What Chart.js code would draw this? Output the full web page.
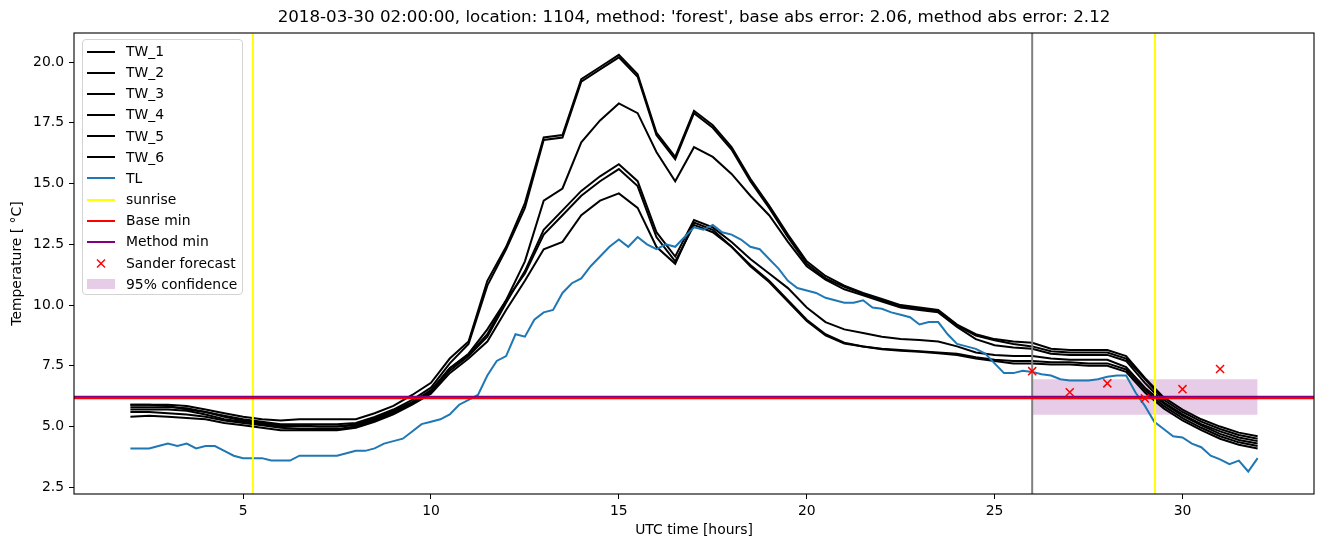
<!DOCTYPE html>
<html>
<head>
<meta charset="utf-8">
<script src="https://cdn.jsdelivr.net/npm/chart.js@4/dist/chart.umd.min.js"></script>
<style>
    body { margin: 0; background: #fff; }
    #wrap { position: relative; width: 1324px; height: 547px; }
    #legend {
        position: absolute; left: 82px; top: 39px; width: 159px; height: 254px;
        border: 1px solid #d3d3d3; border-radius: 4px; background: rgba(255,255,255,0.8);
        font: 13.9px "DejaVu Sans", sans-serif; color: #000;
    }
    .row { position: absolute; left: 0; width: 100%; height: 21px; }
    .row .handle { position: absolute; left: 4px; width: 28px; }
    .row .text { position: absolute; left: 43px; top: 0; line-height: 21px; white-space: nowrap; }
</style>
</head>
<body>
<div id="wrap">
    <canvas id="chart" width="1324" height="547"></canvas>
    <div id="legend"></div>
</div>
<script>
const TITLE = "2018-03-30 02:00:00, location: 1104, method: 'forest', base abs error: 2.06, method abs error: 2.12";

const X_MIN = 0.5, X_MAX = 33.5;
const Y_MIN = 2.224, Y_MAX = 21.2;
const X_TICKS = [5, 10, 15, 20, 25, 30];
const Y_TICKS = [2.5, 5.0, 7.5, 10.0, 12.5, 15.0, 17.5, 20.0];

// TW series sampled every half hour from 2 to 32 UTC
const TW_START = 2, TW_STEP = 0.5;
const TW_1 = [5.9,5.9,5.9,5.85,5.7,5.55,5.4,5.3,5.25,5.3,
    5.3,5.3,5.3,5.55,5.85,6.3,6.8,7.8,8.5,11.0,
    12.4,14.2,16.9,17.0,19.3,19.8,20.3,19.5,17.1,16.1,
    18.0,17.4,16.5,15.2,14.1,12.9,11.8,11.2,10.8,10.5,
    10.25,10.0,9.9,9.8,9.2,8.8,8.6,8.5,8.45,8.2,
    8.15,8.15,8.15,7.9,7.0,6.2,5.7,5.3,5.0,4.75,
    4.6];
const TW_2 = [5.8,5.8,5.8,5.75,5.6,5.45,5.3,5.2,5.1,5.1,
    5.1,5.1,5.15,5.4,5.7,6.1,6.6,7.6,8.4,10.8,
    12.3,14.0,16.8,16.9,19.2,19.7,20.2,19.4,17.0,16.0,
    17.9,17.3,16.4,15.1,14.0,12.8,11.7,11.1,10.75,10.45,
    10.2,9.95,9.85,9.75,9.15,8.75,8.55,8.4,8.3,8.1,
    8.05,8.05,8.05,7.8,6.95,6.1,5.6,5.2,4.9,4.65,
    4.5];
const TW_3 = [5.7,5.7,5.7,5.65,5.5,5.3,5.2,5.1,5.0,5.0,
    5.0,5.0,5.1,5.35,5.65,6.0,6.5,7.4,8.0,9.0,
    10.2,11.8,14.3,14.8,16.7,17.6,18.3,17.9,16.3,15.1,
    16.5,16.1,15.4,14.5,13.7,12.6,11.6,11.05,10.65,10.4,
    10.15,9.9,9.8,9.7,9.1,8.6,8.35,8.25,8.2,8.0,
    7.95,7.95,7.95,7.7,6.8,6.0,5.5,5.1,4.8,4.55,
    4.4];
const TW_4 = [5.6,5.6,5.55,5.5,5.4,5.25,5.15,5.05,4.95,4.9,
    4.9,4.9,5.0,5.25,5.55,5.95,6.4,7.3,7.9,8.7,
    10.1,11.4,13.1,13.9,14.7,15.3,15.8,15.1,13.0,12.0,
    13.5,13.2,12.6,11.9,11.3,10.7,9.9,9.3,9.0,8.85,
    8.7,8.6,8.56,8.5,8.3,8.05,7.95,7.9,7.9,7.8,
    7.75,7.75,7.75,7.45,6.6,5.95,5.45,5.05,4.7,4.45,
    4.3];
const TW_5 = [5.9,5.9,5.85,5.7,5.6,5.4,5.25,5.15,5.05,5.05,
    5.0,5.0,5.05,5.3,5.6,6.0,6.45,7.4,7.95,8.8,
    10.2,11.3,12.9,13.7,14.5,15.1,15.6,14.9,12.8,11.8,
    13.3,13.0,12.4,11.65,11.0,10.2,9.4,8.8,8.45,8.3,
    8.2,8.15,8.1,8.05,8.0,7.85,7.75,7.7,7.7,7.65,
    7.65,7.6,7.6,7.35,6.5,5.85,5.35,4.95,4.6,4.35,
    4.2];
const TW_6 = [5.4,5.45,5.4,5.35,5.3,5.15,5.05,4.95,4.85,4.85,
    4.85,4.85,4.95,5.2,5.5,5.9,6.35,7.2,7.8,8.5,
    9.8,11.0,12.3,12.6,13.7,14.3,14.6,14.0,12.4,11.7,
    13.4,13.1,12.4,11.6,10.95,10.15,9.35,8.75,8.42,8.3,
    8.18,8.12,8.08,8.02,7.95,7.8,7.7,7.6,7.6,7.55,
    7.55,7.5,7.5,7.25,6.4,5.75,5.25,4.85,4.5,4.25,
    4.1];

// TL sampled every quarter hour from 2 to 32 UTC
const TL_START = 2, TL_STEP = 0.25;
const TL = [4.1,4.1,4.1,4.2,4.3,4.2,4.3,4.1,4.2,4.2,
    4.0,3.8,3.7,3.7,3.7,3.6,3.6,3.6,3.8,3.8,
    3.8,3.8,3.8,3.9,4.0,4.0,4.1,4.3,4.4,4.5,
    4.8,5.1,5.2,5.3,5.5,5.9,6.1,6.3,7.1,7.7,
    7.9,8.8,8.7,9.4,9.7,9.8,10.5,10.9,11.1,11.6,
    12.0,12.4,12.7,12.4,12.8,12.5,12.3,12.5,12.4,12.8,
    13.2,13.1,13.3,13.0,12.9,12.7,12.4,12.3,11.9,11.5,
    11.0,10.7,10.6,10.5,10.3,10.2,10.1,10.1,10.2,9.9,
    9.85,9.7,9.6,9.5,9.2,9.3,9.3,8.8,8.4,8.3,
    8.2,8.0,7.6,7.2,7.2,7.3,7.25,7.15,7.1,6.95,
    6.9,6.9,6.9,6.95,7.05,7.1,7.1,6.4,5.85,5.2,
    4.9,4.6,4.55,4.3,4.15,3.8,3.65,3.45,3.6,3.15,
    3.7];

const SUNRISE = [5.26, 29.27];
const FORECAST_START = 26;
const BASE_MIN = 6.17;
const METHOD_MIN = 6.23;

const SANDER_HOURS = [26, 27, 28, 29, 30, 31];
const SANDER_TEMPS = [7.28, 6.41, 6.78, 6.16, 6.54, 7.37];

const CONF_HOURS = [26, 32];
const CONF_LOW = 5.49, CONF_HIGH = 6.95;

const TW_NAMES = ['TW_1', 'TW_2', 'TW_3', 'TW_4', 'TW_5', 'TW_6'];
const TW_SERIES = [TW_1, TW_2, TW_3, TW_4, TW_5, TW_6];

const LEGEND_ITEMS = [
    ...TW_NAMES.map(n => ({ label: n, kind: 'line', color: '#000' })),
    { label: 'TL', kind: 'line', color: '#1f77b4' },
    { label: 'sunrise', kind: 'line', color: '#ffff00' },
    { label: 'Base min', kind: 'line', color: '#ff0000' },
    { label: 'Method min', kind: 'line', color: '#800080' },
    { label: 'Sander forecast', kind: 'marker', color: '#ff0000' },
    { label: '95% confidence', kind: 'fill', color: 'rgba(128,0,128,0.2)' }
];

function toPoints(values, start, step) {
    return values.map((v, i) => ({ x: start + i * step, y: v }));
}

function lineSet(label, data, color, width) {
    return { label, data, borderColor: color, borderWidth: width, pointRadius: 0, fill: false };
}

// list is in matplotlib drawing order, first drawn at the bottom
const drawList = [
    { label: 'conf_low', data: CONF_HOURS.map(x => ({ x, y: CONF_LOW })), borderWidth: 0, pointRadius: 0, fill: false },
    { label: '95% confidence', data: CONF_HOURS.map(x => ({ x, y: CONF_HIGH })), borderWidth: 0, pointRadius: 0,
      fill: { target: 0 }, backgroundColor: 'rgba(128,0,128,0.2)' },
    ...TW_SERIES.map((s, i) => lineSet(TW_NAMES[i], toPoints(s, TW_START, TW_STEP), '#000', 2)),
    lineSet('TL', toPoints(TL, TL_START, TL_STEP), '#1f77b4', 2),
    ...SUNRISE.map(h => lineSet('sunrise', [{ x: h, y: Y_MIN }, { x: h, y: Y_MAX }], '#ffff00', 2)),
    lineSet('forecast', [{ x: FORECAST_START, y: Y_MIN }, { x: FORECAST_START, y: Y_MAX }], '#808080', 2),
    lineSet('Base min', [{ x: X_MIN, y: BASE_MIN }, { x: X_MAX, y: BASE_MIN }], '#ff0000', 2),
    lineSet('Method min', [{ x: X_MIN, y: METHOD_MIN }, { x: X_MAX, y: METHOD_MIN }], '#800080', 2),
    { label: 'Sander forecast', data: SANDER_HOURS.map((x, i) => ({ x, y: SANDER_TEMPS[i] })), showLine: false,
      pointStyle: 'crossRot', pointRadius: 5.7, pointBorderColor: '#ff0000', pointBorderWidth: 1.5,
      borderColor: '#ff0000', backgroundColor: '#ff0000' }
];
drawList.forEach((d, i) => { d.order = drawList.length - i; });

const titlePlugin = {
    id: 'axesTitle',
    afterDraw(chart) {
        const { ctx, chartArea } = chart;
        ctx.save();
        ctx.font = '16.7px "DejaVu Sans"';
        ctx.fillStyle = '#000';
        ctx.textAlign = 'center';
        ctx.textBaseline = 'middle';
        ctx.fillText(TITLE, (chartArea.left + chartArea.right) / 2, 18);
        ctx.restore();
    }
};

const framePlugin = {
    id: 'frame',
    afterDatasetsDraw(chart) {
        const { ctx, chartArea: a } = chart;
        ctx.save();
        ctx.strokeStyle = '#000';
        ctx.lineWidth = 1.1;
        ctx.strokeRect(a.left, a.top, a.right - a.left, a.bottom - a.top);
        ctx.restore();
    }
};

Chart.defaults.font.family = '"DejaVu Sans", sans-serif';
Chart.defaults.color = '#000';

const tickFont = { size: 13.9 };
const axisGrid = { drawOnChartArea: false, drawTicks: true, tickLength: 5, tickColor: '#000', tickWidth: 1 };

new Chart(document.getElementById('chart').getContext('2d'), {
    type: 'line',
    data: { datasets: drawList },
    options: {
        responsive: false,
        animation: false,
        devicePixelRatio: 1,
        layout: { padding: { top: 33, right: 10, left: 0, bottom: 0 } },
        plugins: { legend: { display: false }, tooltip: { enabled: false } },
        elements: { line: { tension: 0 }, point: { radius: 0 } },
        scales: {
            x: {
                type: 'linear', min: X_MIN, max: X_MAX,
                afterFit: s => { s.height = 53; },
                afterBuildTicks: s => { s.ticks = X_TICKS.map(v => ({ value: v })); },
                ticks: { font: tickFont, padding: 4, maxRotation: 0, callback: v => String(v) },
                grid: axisGrid,
                border: { display: false },
                title: { display: true, text: 'UTC time [hours]', font: { size: 13.9 }, padding: { top: 0, bottom: 8.5 } }
            },
            y: {
                type: 'linear', min: Y_MIN, max: Y_MAX,
                afterFit: s => { s.width = 74; },
                afterBuildTicks: s => { s.ticks = Y_TICKS.map(v => ({ value: v })); },
                ticks: { font: tickFont, padding: 5, callback: v => v.toFixed(1) },
                grid: axisGrid,
                border: { display: false },
                title: { display: true, text: 'Temperature [ °C]', font: { size: 13.9 }, padding: { top: 9.5, bottom: 0 } }
            }
        }
    },
    plugins: [titlePlugin, framePlugin]
});

function buildLegend() {
    const box = document.getElementById('legend');
    LEGEND_ITEMS.forEach((item, i) => {
        const row = document.createElement('div');
        row.className = 'row';
        row.style.top = (1 + i * 21.16) + 'px';
        let handle;
        if (item.kind === 'line') {
            handle = `<div class="handle" style="top:9.5px;height:2px;background:${item.color}"></div>`;
        } else if (item.kind === 'fill') {
            handle = `<div class="handle" style="top:5.5px;height:9.7px;background:${item.color}"></div>`;
        } else {
            handle = `<svg class="handle" style="top:0" width="28" height="21">
                <line x1="10" y1="6.5" x2="18" y2="14.5" stroke="${item.color}" stroke-width="1.5"/>
                <line x1="10" y1="14.5" x2="18" y2="6.5" stroke="${item.color}" stroke-width="1.5"/></svg>`;
        }
        row.innerHTML = handle + `<span class="text">${item.label}</span>`;
        box.appendChild(row);
    });
}
buildLegend();
</script>
</body>
</html>
